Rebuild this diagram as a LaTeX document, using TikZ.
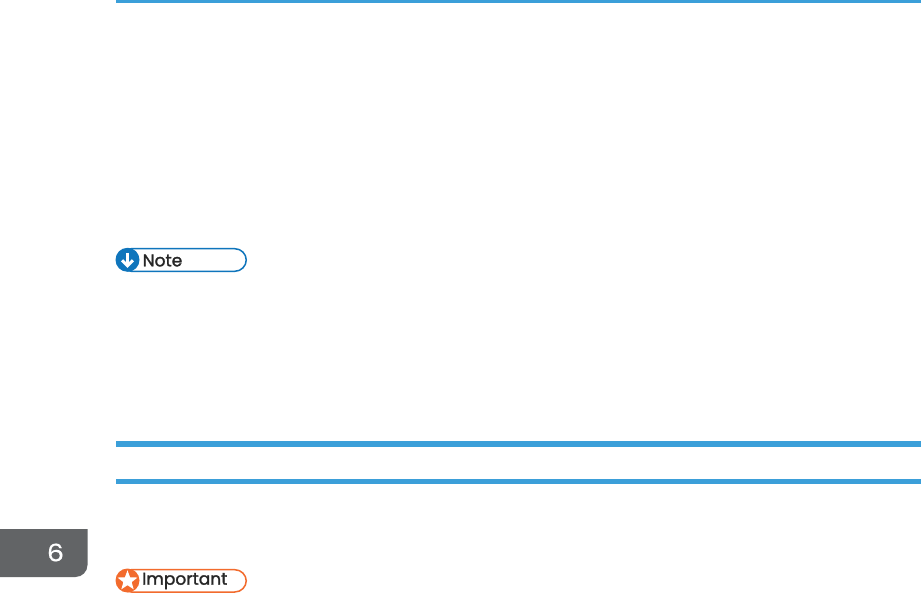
\documentclass[tikz,border=0pt]{standalone}
\usepackage{fontspec}
\setmainfont{Poppins}
\newfontfamily\pillfont{Poppins}[FakeBold=1.6]
\newfontfamily\tabfont{Poppins}[FakeBold=0.4,FakeStretch=1.12]
\usetikzlibrary{shapes.geometric}
\definecolor{rulecol}{HTML}{3B9FD9}
\definecolor{tabcol}{HTML}{626466}
\definecolor{notecol}{HTML}{0F75BC}
\definecolor{impcol}{HTML}{F26B2D}
\tikzset{
  rulebar/.style={fill=rulecol,draw=none},
  pill/.style={draw=#1,line width=1.5pt,fill=white,rounded corners=11.5pt},
  badge/.style={circle,fill=#1,draw=none,minimum size=24pt,inner sep=0pt},
  pilltext/.style={anchor=west,inner sep=0pt,font=\pillfont\fontsize{17pt}{19pt}\selectfont,text=black!85},
}
\begin{document}
\begin{tikzpicture}[x=1pt,y=-1pt]
\useasboundingbox (0,0) rectangle (921,593);
\fill[white] (0,0) rectangle (921,593);
% rules
\fill[rulebar] (115.5,0) rectangle (921,3.2);
\fill[rulebar] (115.5,441) rectangle (921,447);
\fill[rulebar] (115.5,479) rectangle (921,484);
% chapter tab
\fill[tabcol] (0,529) -- (87.5,529) -- (87.5,565) arc[start angle=0,end angle=90,x radius=12pt,y radius=-12pt] -- (0,577) -- cycle;
\node[inner sep=0pt,text=white,font=\tabfont\fontsize{24pt}{26pt}\selectfont] (chap) at (55.5,552.5) {6};
% note
\draw[pill=notecol] (120,248.7) rectangle (246.3,271.3);
\node[badge=notecol] (nb) at (127.5,259.8) {};
\draw[white,line width=3pt] (nb.center) ++(0,-7) -- ++(0,12);
\draw[white,line width=3pt,line join=miter] (nb.center) ++(-5.5,0.5) -- ++(5.5,5.5) -- ++(5.5,-5.5);
\node[pilltext] (nt) at (142.5,260.5) {Note};
% important
\draw[pill=impcol] (120,569.7) rectangle (246.3,592);
\node[badge=impcol] (ib) at (127.5,580.5) {};
\node[star,star points=5,star point ratio=2.4,fill=white,inner sep=0pt,minimum size=21pt,draw=none] (is) at (127.5,580.8) {};
\node[pilltext] (it) at (142,581) {Important};
\end{tikzpicture}
\end{document}
